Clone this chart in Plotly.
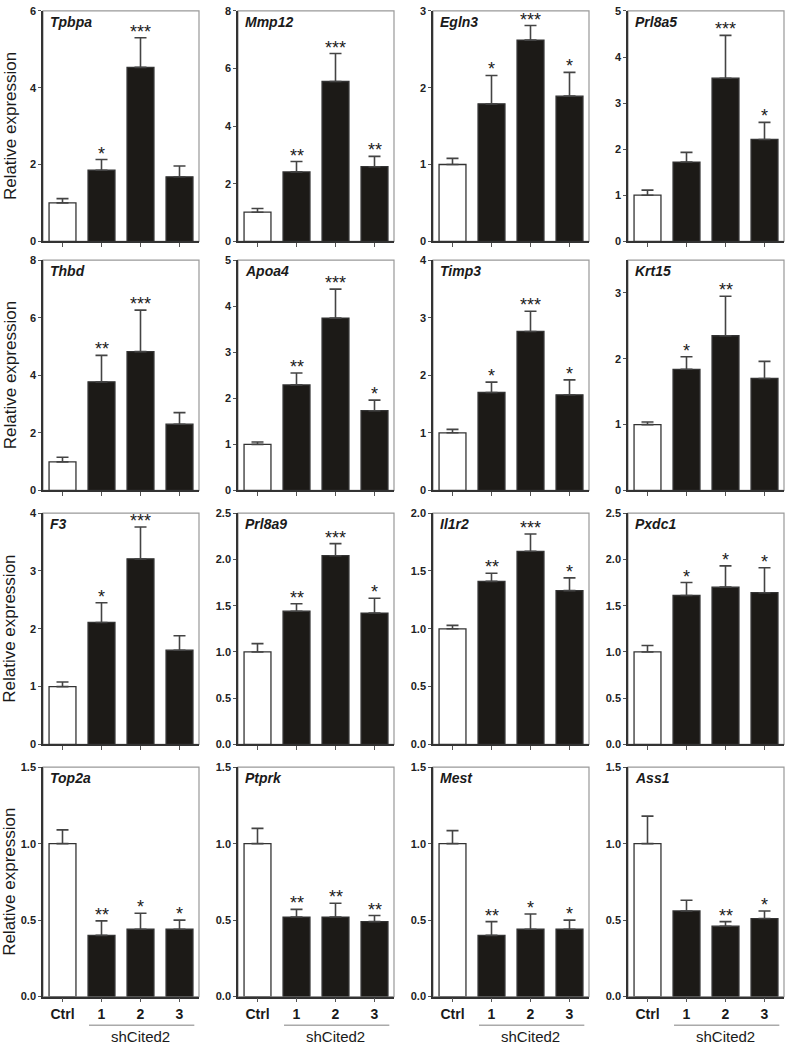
import plotly.graph_objects as go

categories = ["Ctrl", "1", "2", "3"]
genes = ["Tpbpa", "Mmp12", "Egln3", "Prl8a5",
         "Thbd", "Apoa4", "Timp3", "Krt15",
         "F3", "Prl8a9", "Il1r2", "Pxdc1",
         "Top2a", "Ptprk", "Mest", "Ass1"]

means = [
    [1.00, 1.85, 4.53, 1.68],
    [1.01, 2.41, 5.55, 2.59],
    [1.00, 1.79, 2.62, 1.89],
    [1.00, 1.72, 3.54, 2.21],
    [0.99, 3.77, 4.82, 2.30],
    [1.00, 2.29, 3.74, 1.73],
    [1.00, 1.70, 2.76, 1.66],
    [1.00, 1.84, 2.35, 1.70],
    [1.00, 2.11, 3.21, 1.63],
    [1.00, 1.44, 2.04, 1.42],
    [1.00, 1.41, 1.67, 1.33],
    [1.00, 1.61, 1.70, 1.64],
    [1.00, 0.40, 0.44, 0.44],
    [1.00, 0.52, 0.52, 0.49],
    [1.00, 0.40, 0.44, 0.44],
    [1.00, 0.56, 0.46, 0.51],
]
sems = [
    [0.11, 0.28, 0.77, 0.28],
    [0.13, 0.36, 0.97, 0.36],
    [0.08, 0.37, 0.19, 0.31],
    [0.11, 0.21, 0.93, 0.37],
    [0.16, 0.92, 1.44, 0.40],
    [0.05, 0.26, 0.63, 0.23],
    [0.06, 0.18, 0.35, 0.26],
    [0.04, 0.19, 0.60, 0.26],
    [0.08, 0.34, 0.55, 0.25],
    [0.09, 0.08, 0.13, 0.16],
    [0.03, 0.07, 0.15, 0.11],
    [0.07, 0.14, 0.23, 0.27],
    [0.09, 0.095, 0.105, 0.06],
    [0.10, 0.05, 0.09, 0.04],
    [0.085, 0.09, 0.10, 0.06],
    [0.18, 0.07, 0.03, 0.05],
]
signif = [
    ["", "*", "***", ""],
    ["", "**", "***", "**"],
    ["", "*", "***", "*"],
    ["", "", "***", "*"],
    ["", "**", "***", ""],
    ["", "**", "***", "*"],
    ["", "*", "***", "*"],
    ["", "*", "**", ""],
    ["", "*", "***", ""],
    ["", "**", "***", "*"],
    ["", "**", "***", "*"],
    ["", "*", "*", "*"],
    ["", "**", "*", "*"],
    ["", "**", "**", "**"],
    ["", "**", "*", "*"],
    ["", "", "**", "*"],
]
y_max = [6, 8, 3, 5, 8, 5, 4, 3.5, 4, 2.5, 2.0, 2.5, 1.5, 1.5, 1.5, 1.5]
y_dtick = [2, 2, 1, 1, 2, 1, 1, 1, 1, 0.5, 0.5, 0.5, 0.5, 0.5, 0.5, 0.5]
group_label = "shCited2"
y_title = "Relative expression"

W, H = 788, 1050
col_left = [43, 238, 433, 628]
col_w = 156
row_top = [5, 257, 513, 770]
row_bot = [238, 490, 747, 1002]

FONT = "Liberation Sans, Arial, sans-serif"
fig = go.Figure()
layout = dict(width=W, height=H, margin=dict(l=0, r=0, t=0, b=0),
              paper_bgcolor="white", plot_bgcolor="white", showlegend=False,
              bargap=0.31, font=dict(family=FONT, color="#1a1a1a"))
annotations = []
shapes = []

for k, g in enumerate(genes):
    r, c = divmod(k, 4)
    idx = "" if k == 0 else str(k + 1)
    xa, ya = "x" + idx, "y" + idx
    x0 = col_left[c] / W
    x1 = (col_left[c] + col_w) / W
    y0 = 1 - row_bot[r] / H
    y1 = 1 - row_top[r] / H
    fill = ["white", "#1c1a17", "#1c1a17", "#1c1a17"]
    fig.add_trace(go.Bar(
        x=categories, y=means[k], xaxis=xa, yaxis=ya,
        marker=dict(color=fill, line=dict(color="#333333", width=1.3)),
        error_y=dict(type="data", symmetric=False, array=sems[k],
                     arrayminus=[0] * 4, color="#444444", thickness=1.6, width=6),
        hoverinfo="skip"))
    fmt = ".1f" if y_dtick[k] < 1 else "d"
    layout["xaxis" + idx] = dict(
        domain=[x0, x1], anchor=ya, range=[-0.5, 3.5], type="category",
        showline=True, linecolor="#333333", linewidth=1.5,
        ticks="outside", ticklen=4, tickcolor="#555555", tickwidth=1,
        showticklabels=(r == 3), showgrid=False, zeroline=False,
        tickfont=dict(family=FONT, size=14, color="#1a1a1a", weight="bold"),
        categoryorder="array", categoryarray=categories)
    layout["yaxis" + idx] = dict(
        domain=[y0, y1], anchor=xa, range=[0, y_max[k]], dtick=y_dtick[k],
        tick0=0, tickformat=fmt,
        showline=True, linecolor="#333333", linewidth=1.5,
        ticks="outside", ticklen=3, tickcolor="#555555", tickwidth=1,
        showgrid=False, zeroline=False,
        tickfont=dict(family=FONT, size=11, color="#222222", weight="bold"))
    # frame (top/right)
    shapes.append(dict(type="rect", xref=xa + " domain", yref=ya + " domain",
                       x0=0, x1=1, y0=0, y1=1, line=dict(color="#999999", width=1.2),
                       layer="below"))
    # gene name
    annotations.append(dict(text="<b><i>" + g + "</i></b>", xref=xa + " domain",
                            yref=ya + " domain", x=0.03, y=0.995, xanchor="left",
                            yanchor="top", showarrow=False,
                            font=dict(family=FONT, size=14, color="#1a1a1a")))
    # significance stars
    for i, s in enumerate(signif[k]):
        if s:
            annotations.append(dict(text=s, x=categories[i], y=means[k][i] + sems[k][i],
                                    xref=xa, yref=ya, yanchor="bottom", showarrow=False,
                                    yshift=-6,
                                    font=dict(family=FONT, size=18, color="#1a1a1a")))
    if r == 3:
        ly = 1 - 1031 / H
        shapes.append(dict(type="line", xref=xa, yref="paper", x0=0.68, x1=3.38,
                           y0=ly, y1=ly, line=dict(color="#aaaaaa", width=1.5)))
        annotations.append(dict(text=group_label, xref=xa, yref="paper", x=2,
                                y=1 - 1042 / H, yanchor="middle", showarrow=False,
                                font=dict(family=FONT, size=15, color="#1a1a1a")))

for r in range(4):
    yc = 1 - (row_top[r] + row_bot[r]) / 2 / H
    annotations.append(dict(text=y_title, xref="paper", yref="paper", x=10 / W, y=yc,
                            textangle=-90, showarrow=False, xanchor="center",
                            yanchor="middle",
                            font=dict(family=FONT, size=17, color="#1a1a1a")))

layout["annotations"] = annotations
layout["shapes"] = shapes
fig.update_layout(**layout)
fig.write_html("out.html", config={"displayModeBar": False},
               post_script="document.body.style.margin='0';document.body.style.overflow='hidden';")
